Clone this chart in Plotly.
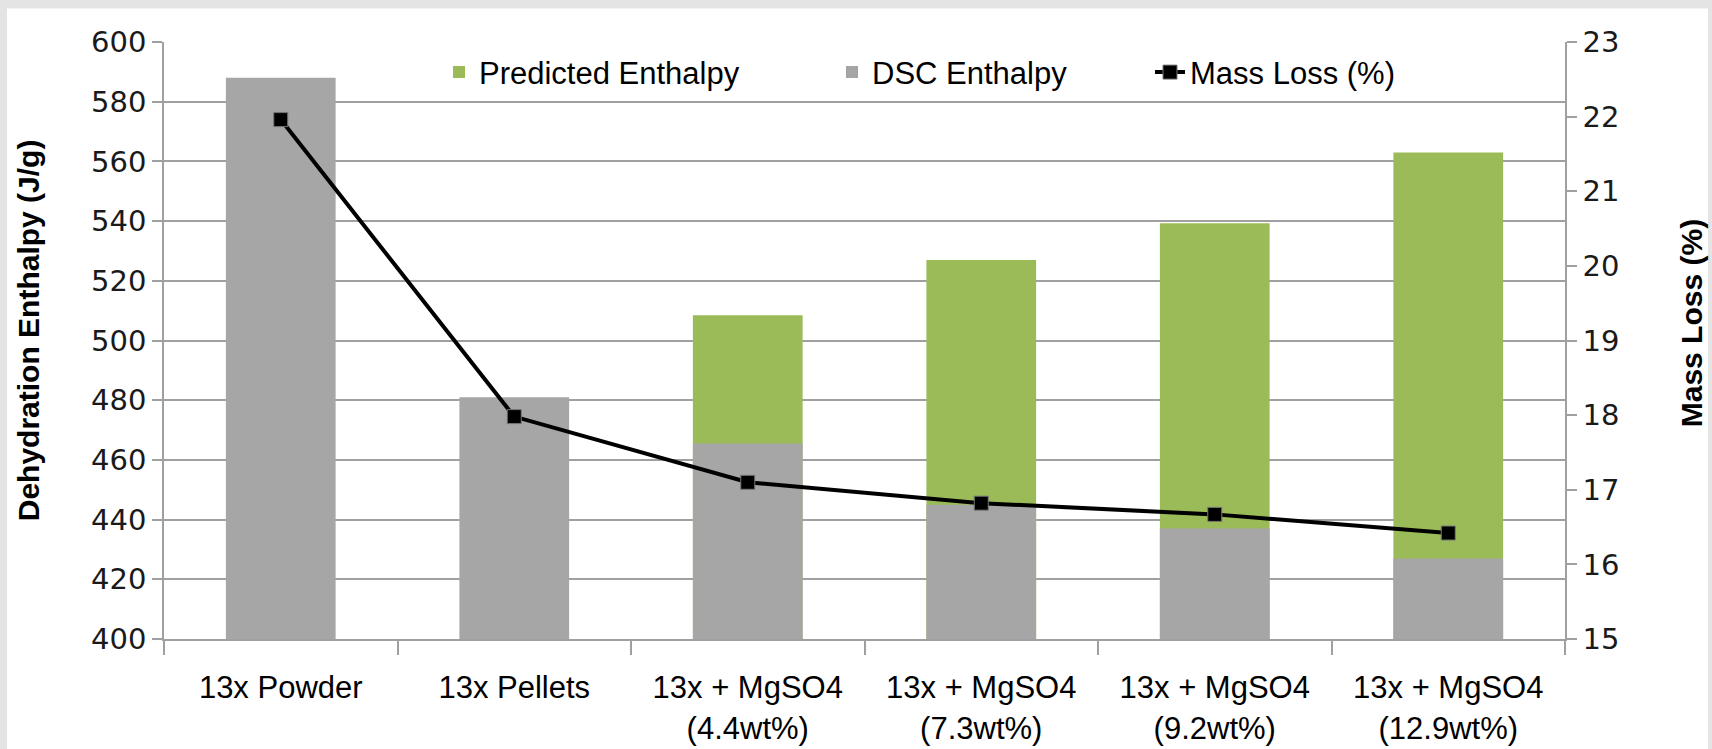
import plotly.graph_objects as go

categories = ["13x Powder", "13x Pellets", "13x + MgSO4<br>(4.4wt%)", "13x + MgSO4<br>(7.3wt%)",
              "13x + MgSO4<br>(9.2wt%)", "13x + MgSO4<br>(12.9wt%)"]
dsc_enthalpy = [588, 481, 465.5, 445, 437, 427]
predicted_enthalpy = [None, None, 508.5, 527, 539.3, 563]
mass_loss = [21.96, 17.98, 17.10, 16.82, 16.67, 16.42]

left_ticks = list(range(400, 601, 20))
right_ticks = list(range(15, 24))

GREEN = "#9BBB59"
GRAY = "#A6A6A6"
GRID = "#A0A0A0"
TICKFONT = dict(family="DejaVu Sans", size=29, color="#1a1a1a")
LABFONT = dict(family="Liberation Sans", size=31, color="#000000")
LEGFONT = dict(family="Liberation Sans", size=31, color="#000000")
TITLEFONT = dict(family="Liberation Sans", size=30, color="#000000")

fig = go.Figure()
fig.add_trace(go.Bar(x=categories, y=predicted_enthalpy, name="Predicted Enthalpy",
                     marker=dict(color=GREEN, line=dict(width=0)), width=0.47, legend="legend"))
fig.add_trace(go.Bar(x=categories, y=dsc_enthalpy, name="DSC Enthalpy",
                     marker=dict(color=GRAY, line=dict(width=0)), width=0.47, legend="legend2"))
fig.add_trace(go.Scatter(x=categories, y=mass_loss, name="Mass Loss (%)", yaxis="y2",
                         mode="lines+markers", legend="legend3",
                         line=dict(color="#000000", width=4),
                         marker=dict(symbol="square", size=14, color="#000000",
                                     line=dict(color="#777777", width=1))))

W, H = 1712, 749
L, R, T, B = 164, 147, 41.5, 110
pw, ph = W - L - R, H - T - B

def px_to_paper_x(px):
    return (px - L) / pw

def px_to_paper_y(py):
    return (H - B - py) / ph

def leg(xpx):
    return dict(orientation="h", x=px_to_paper_x(xpx), xanchor="left",
                y=px_to_paper_y(72), yanchor="middle",
                font=LEGFONT, bgcolor="rgba(0,0,0,0)", itemwidth=30)

fig.update_layout(
    width=W, height=H,
    margin=dict(l=L, r=R, t=T, b=B, pad=0, autoexpand=False),
    barmode="overlay",
    paper_bgcolor="#E4E4E4",
    plot_bgcolor="#FFFFFF",
    showlegend=True,
    legend=leg(439),
    legend2=leg(832),
    legend3=leg(1150),
    xaxis=dict(type="category", tickson="boundaries", ticks="outside", ticklen=14,
               tickcolor=GRID, tickwidth=1.5, showline=True, linecolor=GRID, linewidth=2,
               showgrid=False, tickfont=LABFONT, ticklabelstandoff=20),
    yaxis=dict(range=[400, 600], tickvals=left_ticks, ticks="outside", ticklen=10,
               tickcolor=GRID, tickwidth=1.5, showline=True, linecolor=GRID, linewidth=1.5,
               showgrid=True, gridcolor=GRID, gridwidth=1.5, tickfont=TICKFONT,
               zeroline=False, ticksuffix=" "),
    yaxis2=dict(range=[15, 23], tickvals=right_ticks, overlaying="y", side="right",
                ticks="outside", ticklen=10, tickcolor=GRID, tickwidth=1.5, showline=True,
                linecolor=GRID, linewidth=1.5, showgrid=False, tickfont=TICKFONT, zeroline=False),
    annotations=[
        dict(text="<b>Dehydration Enthalpy (J/g)</b>", textangle=-90, showarrow=False,
             xref="paper", yref="paper", x=px_to_paper_x(28), y=px_to_paper_y(330),
             xanchor="center", yanchor="middle", font=TITLEFONT),
        dict(text="<b>Mass Loss (%)</b>", textangle=-90, showarrow=False,
             xref="paper", yref="paper", x=px_to_paper_x(1691), y=px_to_paper_y(323),
             xanchor="center", yanchor="middle", font=TITLEFONT),
    ],
    shapes=[dict(type="rect", xref="paper", yref="paper", layer="below",
                 x0=px_to_paper_x(7), x1=px_to_paper_x(1708),
                 y0=px_to_paper_y(H + 5), y1=px_to_paper_y(8),
                 fillcolor="#FFFFFF", line=dict(width=0))],
)

fig.write_html("out.html", config={"displayModeBar": False},
               post_script="document.body.style.margin='0px';document.body.style.overflow='hidden';")
